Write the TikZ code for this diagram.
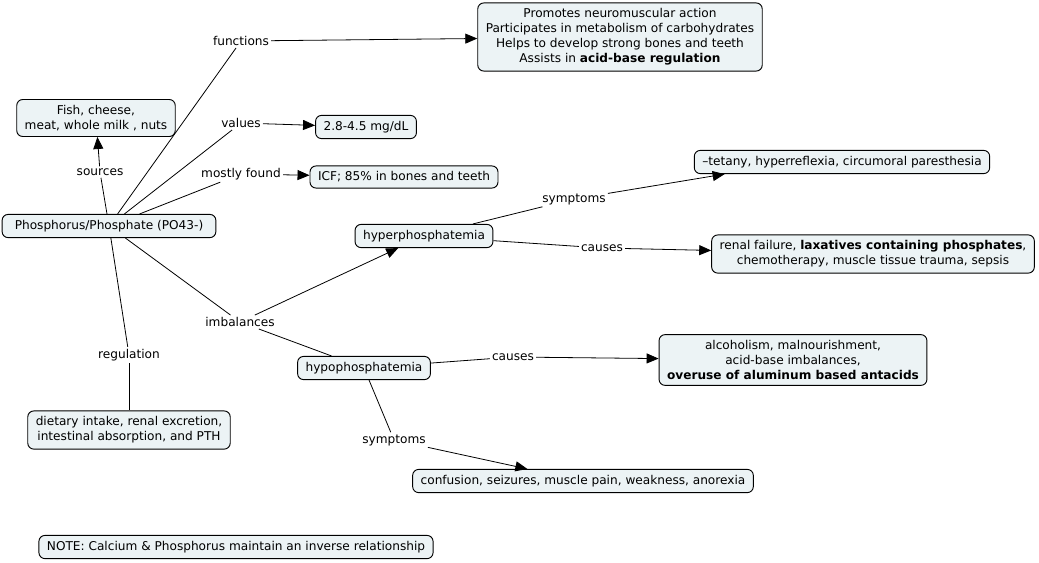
\documentclass[tikz,border=0pt]{standalone}
\usepackage{fontspec}
\setmainfont{DejaVu Sans}
\usetikzlibrary{arrows.meta}
\definecolor{cmapfill}{HTML}{ECF3F5}
\tikzset{
  concept/.style={draw, fill=cmapfill, rounded corners=4.5pt, line width=0.7pt, align=center,
    inner xsep=6pt, inner ysep=4.3pt, font=\fontsize{9.1}{11.2}\selectfont},
  linklabel/.style={inner sep=1.5pt, font=\fontsize{9.1}{11.2}\selectfont},
  link/.style={line width=0.6pt},
  linkarrow/.style={line width=0.6pt, -{Triangle[length=9pt,width=7.5pt]}}
}

\begin{document}
\begin{tikzpicture}[x=0.75pt,y=0.75pt,yscale=-1,xscale=1]
\useasboundingbox (0,0) rectangle (1039,562);

% Concept Nodes
\node [concept, inner xsep=9.5pt] (phos) at (109,226) {Phosphorus/Phosphate (PO43-)};
\node [concept] (foods) at (96,118) {Fish, cheese,\\meat, whole milk , nuts};
\node [concept] (roles) at (620,37) {Promotes neuromuscular action\\Participates in metabolism of carbohydrates\\Helps to develop strong bones and teeth\\Assists in \textbf{acid-base regulation}};
\node [concept] (range) at (366,127) {2.8-4.5 mg/dL};
\node [concept] (icf) at (404,177) {ICF; 85\% in bones and teeth};
\node [concept] (hyper) at (424,236) {hyperphosphatemia};
\node [concept] (tetany) at (842,162) {–tetany, hyperreflexia, circumoral paresthesia};
\node [concept] (renal) at (873,254) {renal failure, \textbf{laxatives containing phosphates},\\chemotherapy, muscle tissue trauma, sepsis};
\node [concept] (hypo) at (364,368) {hypophosphatemia};
\node [concept] (alcohol) at (793,360) {alcoholism, malnourishment,\\acid-base imbalances,\\\textbf{overuse of aluminum based antacids}};
\node [concept] (confusion) at (583,481) {confusion, seizures, muscle pain, weakness, anorexia};
\node [concept] (diet) at (129,430) {dietary intake, renal excretion,\\intestinal absorption, and PTH};
\node [concept] (note) at (236,547) {NOTE: Calcium \& Phosphorus maintain an inverse relationship};

% Link Labels
\node [linklabel] (lfunc) at (241,41) {functions};
\node [linklabel] (lval) at (241,123) {values};
\node [linklabel] (lfound) at (241,174) {mostly found};
\node [linklabel] (lsrc) at (100,172) {sources};
\node [linklabel] (lreg) at (129,355) {regulation};
\node [linklabel] (limb) at (240,322) {imbalances};
\node [linklabel] (lhypersym) at (574,199) {symptoms};
\node [linklabel] (lhypercause) at (602,248) {causes};
\node [linklabel] (lhypocause) at (513,357) {causes};
\node [linklabel] (lhyposym) at (394,440) {symptoms};

% Connections
\draw [link] (phos) -- (lfunc);
\draw [linkarrow] (lfunc) -- (roles);
\draw [link] (phos) -- (lval);
\draw [linkarrow] (lval) -- (range);
\draw [link] (phos) -- (lfound);
\draw [linkarrow] (lfound) -- (icf);
\draw [link] (phos) -- (lsrc);
\draw [linkarrow] (lsrc) -- (foods);
\draw [link] (phos) -- (lreg);
\draw [link] (lreg) -- (diet);
\draw [link] (phos) -- (limb);
\draw [linkarrow] (limb) -- (hyper);
\draw [link] (limb) -- (hypo);
\draw [link] (hyper) -- (lhypersym);
\draw [linkarrow] (lhypersym) -- ([xshift=-88pt]tetany.south);
\draw [link] (hyper) -- (lhypercause);
\draw [linkarrow] (lhypercause) -- (renal);
\draw [link] (hypo) -- (lhypocause);
\draw [linkarrow] (lhypocause) -- (alcohol);
\draw [link] (hypo) -- (lhyposym);
\draw [linkarrow] (lhyposym) -- (confusion);

\end{tikzpicture}
\end{document}
